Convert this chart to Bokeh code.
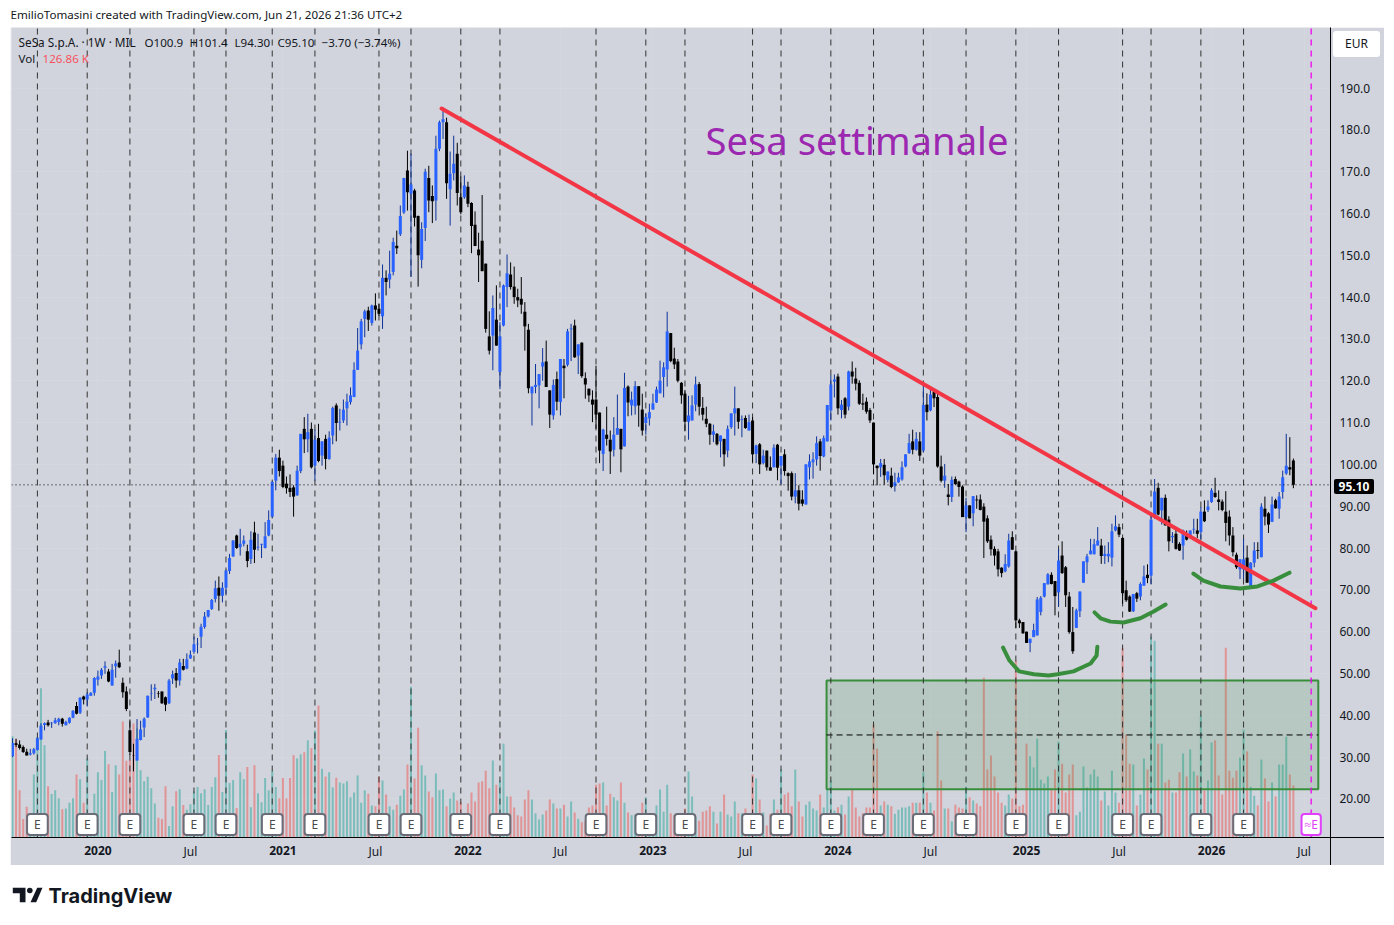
from bokeh.plotting import figure
from bokeh.embed import file_html
from bokeh.resources import INLINE
from bokeh.layouts import column
from bokeh.models import (ColumnDataSource, Range1d, Label, Div, FixedTicker, Span)
from bokeh.core.properties import value

opens = [
30.2,33.3,33.0,32.4,31.3,30.6,30.9,31.7,34.2,37.7,
38.3,38.1,38.1,38.4,39.2,37.6,38.2,39.4,42.2,40.6,
44.5,43.8,44.7,45.4,48.5,49.5,51.4,50.5,47.1,51.7,
52.6,47.8,45.7,36.4,30.4,29.2,34.1,37.1,39.5,45.1,
46.2,45.2,45.7,44.3,42.9,48.8,50.1,48.3,51.8,51.2,
53.6,55.2,57,58.8,61.1,63.6,65.4,67.8,70.5,68.6,
70.5,74.5,78,83,80.2,81,79.2,77.4,83.7,80.1,
80.8,80,83,87.5,96.1,101.6,99.7,95.4,94.4,94.5,
92.6,98.4,108.5,106,108.5,99.7,106.3,102.1,106.1,101.3,
106.9,114.1,110,110.5,113.4,114.9,116.1,122.6,128.7,134.8,
136.8,133.8,138,137.2,135.4,144.6,144.2,146,152.3,155,
160.2,170.3,164.7,165.5,159.4,148.9,156.5,168.5,164.2,163.1,
175.5,181.8,181.8,165.8,169.6,174.3,163.9,163.9,166.4,162.5,
157.3,151.4,153.5,148,130.6,130.8,134.6,122.1,133.2,142.4,
145.4,142.5,140,139.6,136.5,132.2,117.0,118.5,118.9,123.4,
124.6,117.7,111.7,120.4,114.9,123.6,123.8,132.3,133.2,126,
129.1,120.6,118.1,115.5,115.5,112.4,102.5,107.1,105.9,103.5,
107.1,108.5,104.3,118.6,114.1,113.9,118.7,113.1,109.9,111.0,
113.1,114.8,117,120.9,122.7,131.4,125.3,124.6,119.5,116.9,
110.2,110.5,114.3,119.2,113.5,110.9,109.7,107.1,107.3,105.5,
106.1,103.3,108.9,112.2,113.4,110.6,111.1,108.1,110.5,102.5,
104.8,100.3,103.3,99.3,99.3,104.7,99.7,102.4,97.9,97.9,
92.3,93.8,91.6,90.4,99.3,100.5,101.2,105.5,101.9,105.5,
112.9,119.8,121,113,115.8,113.8,122.2,120.5,119.5,114.6,
115,113,110,99.7,99.3,99.9,96.3,97.3,94.8,95.7,
96.4,99.5,102.7,105.5,103.5,105.5,103.3,114.3,112.9,117.4,
116.1,99.5,96.1,92.8,92.2,96.5,95.9,94.7,87.4,90.2,
88.3,91.6,91.6,89.9,87.1,82,79.8,79.2,75.3,74.4,
75.6,82.6,79.2,62.7,62.3,60,57.3,58.7,59.1,64.7,
68.4,71.3,73.6,72.1,69.4,78.2,75.4,68.4,59.9,60.9,
64.9,71.7,76.6,78.5,78.5,80.6,80.6,78.1,78.0,77.7,
84.2,85,82.4,69.9,68.4,64.9,69.2,68.4,71.0,73.6,
73.4,87.4,94.4,89,92,86.8,82.6,83.4,81,80.6,
83.4,82.6,84.4,84.2,83.8,88.7,89.1,91,93.2,91.6,
91.1,88.7,87.5,83,78.4,74.9,74.9,77.7,70.9,76.5,
79.5,77.8,89.4,88.3,86.3,91.4,89.4,93.4,97.8,99.3,100.9]

closes = [
33.4,32.9,32.2,31.2,30.4,30.9,31.9,34.5,37.5,38.1,
37.6,38.2,38.8,39.2,38.0,38.4,39.4,41.1,40.4,44.2,
43.8,45,45.4,48.9,49.3,50.9,51.7,48.1,50.9,52.4,
51.5,45.5,41.5,31.2,30.3,34.4,36.6,39.2,44.7,45.2,
46.6,45.1,42.9,42.5,48.3,49.8,48.3,52.6,50.9,53.4,
54.5,57,57.1,61.2,63.6,65.2,67.6,70.4,68.6,70.5,
74.6,77.6,81.8,80,81,81.8,76.9,82,79.6,80.3,
81,82.8,86.7,95.8,101.6,98.4,94.6,94.3,93.4,92.3,
98.5,107.3,106,107.7,99.3,105.9,100.8,105.5,101.3,106.4,
113.5,109.9,110.2,113.1,115,116.5,122.6,127.2,134.2,136.6,
134.6,138,137,136,144.6,143.6,145.6,153.2,151.7,159.4,
168.5,165.1,166.9,159,150,156.3,170,163.1,162.9,175.5,
181.8,182.5,167.2,169.5,171.9,164.9,160.3,166.7,162.3,157,
152.2,150,146.2,132.4,127.2,137.4,128.4,130.6,142.8,145.7,
142.4,140,139.2,138.2,133,118.2,118.6,119,121.6,124.4,
118.5,111.9,119,115,125.2,123,131.8,132.5,125.6,128.7,
121.1,119.1,116.5,114.3,111.9,103.3,108.3,106.1,103.1,107.1,
108.7,103.6,118.3,114.8,115.5,118.7,114.1,108.1,111.3,112.5,
114.6,117.9,120,123.2,131.8,124.7,123.9,120,116.5,110.2,
111.7,114.1,119.1,113.8,111.9,109.7,107.1,107.9,104.8,106.9,
102.4,108.5,112.2,113.4,110.2,110.8,108.7,110.1,102.4,104.5,
100,102.1,99.3,98.5,104,99.2,102,98.4,97.2,92.3,
93.8,90.6,90.6,100,100.7,101.2,105.1,102,106.3,114.2,
119.1,120.3,113.4,114.3,111.9,122.2,121,119.3,114.5,114.3,
112.6,110.5,100,99.1,100.3,97.4,98.3,94.6,95.7,96.9,
99.3,102.4,105.1,103.5,106.1,102.1,114.2,112.5,116.7,115.8,
99.5,96.1,97.3,92.2,96.3,95.3,94.6,87.4,90.2,87.1,
92.4,91.4,89.1,86.3,81.6,79.7,78.2,74.9,74,76.2,
81.8,79.6,62.7,62.0,59.6,57.3,58.3,60.4,67.7,68.1,
71.6,73.7,71.4,68.5,77,74,68.7,59.9,55.3,65.1,
69.6,76.8,78,79.4,80.9,81.8,78.1,78.6,78.6,84,
85.2,83.2,69.2,67.5,64.8,69,67.9,71.4,73.2,72.8,
86.8,93.5,88,92,85.4,81.6,82.9,79.8,79.4,84.2,
82,84.2,84.6,83.4,88.7,86.4,89.9,93.8,92.2,91,
89.1,86,83,79,75.4,77.3,77.3,71.7,76.5,79.4,
79.3,89.9,87.5,85.6,90.4,89.5,92.3,96.9,99.7,98.8,95.1]

highs = [
34.5,34.4,34,32.8,32,32,32.2,34.8,38.1,38.3,
38.9,38.4,39.4,39.4,39.4,38.7,39.5,41.2,43.2,44.3,
44.7,45.5,45.5,49.1,50.7,51.3,52.9,51.1,52.3,53.1,
55.7,49,46.9,39,33.2,39.1,38.7,39.5,44.7,47.4,
47.5,45.8,45.7,44.5,48.7,50.7,51.3,53.5,53.5,54.8,
55.5,58.8,58.5,61.9,64.7,65.2,67.8,72.2,73.2,71.8,
74.8,78.6,81.9,83.2,84.6,83,80.8,84,86.3,83.4,
81,86.2,89,96,102.5,103.5,100.9,97.1,97.6,95,
99.7,107.3,111.3,112.1,110,108.3,109.7,105.5,107.1,107.9,
113.8,114.6,113.3,115.5,116.9,118.4,124.4,132.6,134.8,137,
137.7,138.2,140.9,138.4,147.8,146.4,151.1,154.2,155.9,161.9,
168.5,175,174.3,165.9,159.5,157.9,170.7,171.4,166.7,178.6,
182.2,185.3,182.9,174.8,178.6,176.9,168.8,169.1,167.6,162.7,
160.5,155.4,164.4,148,136.6,140.4,142.8,134,143,150.2,
148.3,147.3,142,144.8,138.8,133.6,118.6,124,121.6,127.8,
129.6,117.7,120.3,122.2,125.2,125.2,132.4,133.6,134.6,128.7,
129.2,122,118.1,117.7,123.6,112.4,108.5,113.8,108.1,111.3,
116.7,108.5,121.9,118.9,117.4,119.9,118.7,116.9,112.2,114.5,
116.9,118.6,124.8,124.4,136.5,131.4,127.9,125.2,119.7,117.8,
116.4,116.5,121,119.7,116.1,113.8,109.9,109.5,107.5,106.9,
106.1,109.3,112.2,118.6,113.4,111.7,111.7,111.9,111.3,104.7,
105.1,103.5,103.3,101.9,104.8,104.9,102,103.6,98.1,98.3,
97.9,95,93.8,100,102.4,102.9,106.7,106.1,106.9,114.2,
121.3,121.5,121.7,115.4,116.1,122.4,124.6,123.1,120.1,116.9,
116,113.5,110,99.7,101.3,101.3,98.3,99.2,98,98,
100.7,102.4,107.3,108.3,107.7,107.7,118.9,117,118,118,
117.8,102.1,100.1,95.3,97.1,97.1,96.1,95,92,90.2,
92.4,92.6,92.8,90.7,87.8,83,80.4,79.8,75.4,78.5,
83.4,84,79.4,63.1,62.3,60,58.3,61.9,68.3,68.5,
71.6,74,74.2,72.1,79.8,81.6,75.7,69.5,65.9,65.5,
69.6,76.8,78.6,82.2,82.2,85,82.2,80.6,81.4,85.8,
87.8,85.8,82.6,72.2,68.7,69,69.5,71.8,75.8,76.1,
88.2,96.5,95.6,92,92.8,87.6,83.8,84.6,81.4,84.4,
84.2,84.2,87,87,89.8,91.4,91.4,94.3,96.8,93.8,
91.6,93.6,89,85,78.9,77.3,82.2,80.6,76.6,81.4,
81.4,90.7,92.3,88.6,92.3,91.8,93.4,98.5,107.3,106.5,101.4]

lows = [
30,32.4,31.8,31,30.4,30.4,30.6,31.6,34.2,36.4,
37.3,37,38,37.6,37.3,37.6,38,39.3,40.2,40.3,
42.6,42.1,44.6,44.7,47.1,48.7,49.9,47.9,47.1,49,
51.3,44.2,41,30.5,26.6,29.2,34,34.8,39.4,43.5,
43.9,44.2,42.7,41,42.7,47.5,46.6,47.1,50.7,51,
53.5,54.7,54.8,56.1,60.7,63.4,65.2,67,65,67,
69,73.8,77.9,79.8,78.2,80.4,75.4,76.2,76.4,79.4,
77.6,79.9,82.8,87.3,93.8,97.1,94.3,93,92.2,87.5,
92.5,97.9,102.7,102.9,99,96.1,100.5,99.7,98.8,101.1,
104.8,105.5,108.1,109.9,109.3,114.3,116.1,122.6,127.5,130.4,
131.9,133.2,134.4,135.5,132.4,140.4,142.1,145.2,150.3,154.6,
159.9,160.7,144.8,156.9,142.5,146.9,153.4,160.3,157.7,158.3,
174.9,177.8,163.5,157.1,167.9,161.9,159.8,163.5,161.5,150.5,
152.2,143.6,146.2,131.5,126.3,122.5,128.4,118,133,137.6,
141.8,138.4,137.6,136,127.2,117,109.3,117,113.4,120,
118.5,108.7,110.7,112.9,111.7,115.8,123.4,124.7,125.5,121.6,
120.7,115.7,114.9,110.1,108.5,100.3,98.4,104.5,97.7,101.9,
107.1,98.1,104.3,111.5,111.7,111.9,109,106.9,107.1,109.3,
113.1,114.7,117,116,118.6,124.4,122.8,119.6,114.5,107.9,
105.9,110.5,112.7,111.7,110.5,108.9,104.7,105.3,104.5,101.7,
99.5,101.7,108.5,106.9,108.5,106.5,108.5,108.1,100.5,100.3,
97.7,100,98.5,98.5,99.3,96.2,95.3,97.3,93.7,91.4,
90.7,89,90,90.4,96.4,96.6,99.7,98.5,101.7,105.5,
110.5,116,111.9,111,111,112.9,119.3,117.7,114.2,113,
112.1,109.9,97.7,95,97,95.1,95.7,94.3,93.5,95.6,
96.1,99.3,102.5,102.4,103.3,100.8,102.9,110.5,112.7,113.7,
99.2,95.7,94.4,90.2,91,95.1,92.3,87.4,83.8,87.1,
85.2,89.4,89,77.6,81.2,78.2,75.8,73.2,73,74.2,
75.3,79.6,60.9,60.9,59.5,57.3,55.1,58.7,59.1,63.9,
68.2,71.3,71.3,63.9,65.9,73.8,65.9,59.5,54.7,60.9,
63.5,71.7,73.8,78.5,78.5,80.6,76.2,76.2,76.6,75.6,
84,82.6,66.7,67.1,64.7,64.7,67.1,67.5,71,71.6,
71.4,87,87.8,85.6,85.4,79.2,81.2,79.6,79.3,77.2,
81.8,82.4,83.4,82.4,82.2,86.2,88.6,90.8,92,89,
88.8,81.6,80.6,78,75,72.6,72.6,71.7,70.2,75.4,
77.4,77.8,85.4,83.6,86.2,89.4,87,91.8,97.5,97.4,94.3]

volumes_k = [
247,240,115,45,75,34,154,245,364,225,
125,106,115,96,69,71,85,96,154,142,
85,193,50,107,159,140,211,179,111,176,
154,283,187,189,278,266,164,137,148,120,
83,48,45,125,28,76,113,118,79,68,
81,113,123,108,118,79,123,147,201,111,
262,133,140,72,159,142,172,74,176,108,
86,145,115,162,123,96,145,96,145,201,
193,203,208,237,218,261,322,168,149,159,
122,146,134,132,137,98,110,151,85,115,
107,78,76,149,139,105,76,68,80,102,
117,178,368,144,268,176,151,112,98,156,
115,117,76,95,110,90,86,58,83,110,
88,134,137,163,120,188,129,139,229,100,
100,73,54,51,93,115,93,59,44,56,
66,93,83,71,71,80,51,88,61,46,
37,41,73,78,129,132,134,78,107,98,
90,134,85,61,54,56,50,85,98,58,
50,78,117,63,129,59,54,41,41,71,
161,100,51,41,63,66,76,63,34,63,
105,56,51,88,59,59,71,50,154,144,
93,61,29,58,93,68,166,105,110,76,
166,88,51,80,88,71,66,105,73,117,
139,66,74,80,56,100,116,73,51,59,
73,73,276,217,78,88,80,76,58,68,
73,73,76,85,85,85,159,110,85,66,
259,139,71,71,39,80,73,71,124,98,
90,83,76,390,166,200,149,110,85,78,
105,95,432,76,80,229,198,171,241,141,
132,149,117,166,234,180,110,154,178,54,
63,173,122,154,166,149,90,112,78,163,
110,85,463,251,180,178,78,105,193,166,
490,480,229,229,134,141,110,110,159,205,
149,215,161,151,298,115,139,232,237,151,
105,463,163,146,163,195,263,210,124,102,
78,190,144,88,134,100,178,178,246,154,126.86]

assert len(opens) == len(closes) == len(highs) == len(lows) == len(volumes_k) == 361

earnings_weeks = [7,21,33,51,60,73,85,103,112,126,137,164,178,189,208,216,230,242,256,268,282,294,312,320,334,346]
next_earnings_week = [365]
year_ticks = [24,76,128,180,232,285,337]
year_labels = ["2020","2021","2022","2023","2024","2025","2026"]
jul_ticks = [50,102,154,206,258,311,363]
price_ticks = [20,30,40,50,60,70,80,90,100,110,120,130,140,150,160,170,180,190]
price_labels = ["20.00","30.00","40.00","50.00","60.00","70.00","80.00","90.00","100.00",
                "110.0","120.0","130.0","140.0","150.0","160.0","170.0","180.0","190.0"]
last_close = 95.10

trend_x = [120.6, 366.2]
trend_y = [185.1, 65.6]
box_x = [228.8, 367.0]
box_y = [22.3, 48.3]
arc1_x = [278.4,280.2,282.9,287.1,291.2,293.7,298.2,303.0,304.7,304.9]
arc1_y = [56.2,53.1,50.5,49.8,49.5,49.8,50.5,52.4,54.3,56.4]
arc2_x = [304.1,305.8,308.6,312.3,317.0,320.7,324.1]
arc2_y = [64.6,63.2,62.4,62.2,63.2,64.8,66.5]
arc3_x = [331.9,334.7,339.5,345.1,349.9,354.4,358.9]
arc3_y = [73.9,72.2,70.8,70.3,70.8,72.2,74.1]

PX_WEEK = 3.558
PX_PRICE = 4.182
x_lo = (11 - 12) / PX_WEEK
x_hi = (1330 - 12) / PX_WEEK
y_hi = 190 + (87.5 - 27) / PX_PRICE
y_lo = 190 - (837 - 87.5) / PX_PRICE
PX_VOL = 2.44
flag_y = 190 - (824 - 87.5) / PX_PRICE

BG = "#d1d4dc"
UI_FONT = "Noto Sans"

p = figure(width=1374, height=838, output_backend="svg", toolbar_location=None,
           x_range=Range1d(x_lo, x_hi), y_range=Range1d(y_lo, y_hi),
           y_axis_location="right", min_border_left=1, min_border_right=54,
           min_border_top=0, min_border_bottom=28,
           background_fill_color=BG, border_fill_color=BG, outline_line_color=None,
           margin=(0, 0, 0, 10))
p.extra_y_ranges["vol"] = Range1d(0, 810 * PX_VOL)

p.xgrid.ticker = FixedTicker(ticks=year_ticks + jul_ticks)
p.ygrid.ticker = FixedTicker(ticks=price_ticks)
p.xgrid.grid_line_color = "#ffffff"; p.xgrid.grid_line_alpha = 0.07
p.ygrid.grid_line_color = "#ffffff"; p.ygrid.grid_line_alpha = 0.07

idx = list(range(len(opens)))
up = [c >= o for o, c in zip(opens, closes)]
src = ColumnDataSource(dict(
    x=idx, o=opens, c=closes, h=highs, l=lows, v=volumes_k,
    body=["#2962ff" if u else "#000000" for u in up],
    wick=["#0c3299" if u else "#000000" for u in up],
    volc=["#26a69a" if u else "#ef5350" for u in up],
))

p.vbar(x="x", top="v", bottom=0, width=0.56, source=src, y_range_name="vol",
       fill_color="volc", fill_alpha=0.5, line_color=None)

p.quad(left=[box_x[0]], right=[box_x[1]], bottom=[box_y[0]], top=[box_y[1]],
       fill_color="#388e3c", fill_alpha=0.17, line_color="#388e3c", line_width=2)
p.line(box_x, [sum(box_y) / 2] * 2, line_color="#000000", line_width=1, line_dash="6 4")

flags_x = earnings_weeks
p.segment(x0=flags_x, x1=flags_x, y0=[y_lo] * len(flags_x), y1=[y_hi] * len(flags_x),
          line_color="#333333", line_width=1, line_dash="6 5")
p.segment(x0=next_earnings_week, x1=next_earnings_week, y0=[y_lo], y1=[y_hi],
          line_color="#f000f0", line_width=1.3, line_dash="6 5")

p.segment(x0="x", x1="x", y0="l", y1="h", source=src, line_color="wick", line_width=1)
p.vbar(x="x", top="o", bottom="c", width=0.85, source=src, fill_color="body", line_color=None)

p.add_layout(Span(location=last_close, dimension="width", line_color="#000000",
                  line_width=1, line_dash="1 3"))

p.line(trend_x, trend_y, line_color="#f23645", line_width=4, line_cap="round")
for ax, ay in ((arc1_x, arc1_y), (arc2_x, arc2_y), (arc3_x, arc3_y)):
    p.line(ax, ay, line_color="#388e3c", line_width=4, line_cap="round", line_join="round")

p.text(flags_x, [flag_y] * len(flags_x), text=["E"] * len(flags_x),
       text_align="center", text_baseline="middle", text_font=value(UI_FONT),
       text_font_size="12px", text_color="#4a4a4a", background_fill_color="white",
       border_line_color="#6a6d78", border_line_width=2, border_radius=3, padding=(7, 2))
p.text(next_earnings_week, [flag_y], text=["\u2248E"], text_align="center", text_baseline="middle",
       text_font=value(UI_FONT), text_font_size="12px", text_color="#e040fb",
       background_fill_color="white", border_line_color="#e040fb", border_line_width=2,
       border_radius=3, padding=(3, 2))

# axes
ya = p.yaxis[0]
ya.ticker = FixedTicker(ticks=price_ticks)
ya.major_label_overrides = {t: s for t, s in zip(price_ticks, price_labels)}
ya.major_tick_line_color = None
ya.major_tick_out = 0
ya.minor_tick_line_color = None
ya.minor_tick_out = 0
ya.axis_line_color = "#000000"
ya.major_label_text_font = UI_FONT
ya.major_label_text_font_size = "12px"
ya.major_label_text_color = "#131722"
ya.major_label_standoff = 9

xa = p.xaxis[0]
xa.ticker = FixedTicker(ticks=year_ticks)
xa.major_label_overrides = {t: s for t, s in zip(year_ticks, year_labels)}
xa.major_tick_line_color = None
xa.major_tick_out = 0
xa.minor_tick_line_color = None
xa.minor_tick_out = 0
xa.axis_line_color = "#000000"
xa.major_label_text_font = UI_FONT
xa.major_label_text_font_style = "bold"
xa.major_label_text_font_size = "12px"
xa.major_label_text_color = "#131722"
xa.major_label_standoff = 8

FRAME_L, FRAME_B = 11, 837
def lab(px, py, text, size="12px", color="#131722", align="left", style="normal", font=UI_FONT, **kw):
    p.add_layout(Label(x=px - FRAME_L, y=FRAME_B - py, x_units="screen", y_units="screen", text=text,
                       text_font=font, text_font_size=size, text_color=color,
                       text_align=align, text_baseline="middle", text_font_style=style, **kw))

lab(18, 41.5, "SeSa S.p.A. \u00b7 1W \u00b7 MIL", size="11.8px")
lab(144, 41.5, "O100.9", size="11.6px")
lab(189, 41.5, "H101.4", size="11.6px")
lab(234, 41.5, "L94.30", size="11.6px")
lab(277, 41.5, "C95.10", size="11.6px")
lab(321, 41.5, "\u22123.70 (\u22123.74%)", size="11.6px")
lab(18, 58, "Vol", size="11.6px")
lab(42, 58, "126.86 K", size="11.6px", color="#f7525f")
lab(705, 139, "Sesa settimanale", size="38.2px", color="#9c27b0")

def at(left, top):
    return {"position": "absolute", "left": f"{left}px", "top": f"{top}px"}

# The column shares the main figure's side borders with its other figures (1 px left, 54 px right),
# so the bands' x ranges run over the frame that leaves.
def band(h, y0, y1):
    f = figure(width=1390, height=h, output_backend="svg", toolbar_location=None,
               x_range=Range1d(1, 1336), y_range=Range1d(y0, y1),
               x_axis_type=None, y_axis_type=None, min_border=0, outline_line_color=None,
               background_fill_color="white", border_fill_color="white")
    f.xgrid.visible = False
    f.ygrid.visible = False
    return f

head = band(27, 0, 27)
head.text([10], [13], text=["EmilioTomasini created with TradingView.com, Jun 21, 2026 21:36 UTC+2"],
          text_font=value(UI_FONT), text_font_size="11.6px", text_color="#131722",
          text_align="left", text_baseline="middle")

foot = band(55, 920, 865)
foot.patch([12.3,25,25,19.3,19.3,12.3], [887.3,887.3,901.7,901.7,892.7,892.7], fill_color="#131722", line_color=None)
foot.patch([36.7,42,35.7,30], [887.3,887.3,901.7,901.7], fill_color="#131722", line_color=None)
foot.scatter([29.3], [890], size=5.6, fill_color="#131722", line_color=None)
foot.text([48], [895], text=["TradingView"], text_font=value("Inter"), text_font_size="20px",
          text_font_style="bold", text_color="#131722", text_align="left", text_baseline="middle")

# Jul labels: a transparent strip with the main figure's geometry and x range
jul_strip = figure(width=1374, height=16, output_backend="svg", toolbar_location=None,
                   x_range=p.x_range, y_range=Range1d(0, 1), x_axis_type=None, y_axis_type=None,
                   min_border=0, outline_line_color=None, background_fill_color=None,
                   border_fill_color=None, styles=at(10, 843))
jul_strip.xgrid.visible = False
jul_strip.ygrid.visible = False
jul_strip.text(jul_ticks, [0.5] * len(jul_ticks), text=["Jul"] * len(jul_ticks),
               text_font=value(UI_FONT), text_font_size="12px", text_color="#131722",
               text_align="center", text_baseline="middle")

tag_font = {"font-family": UI_FONT, "font-size": "12px", "text-align": "center"}
eur_tag = Div(text="EUR", width=47, height=26, margin=0,
              styles=dict(at(1333, 31), background="white", color="#131722",
                          **{"border-radius": "3px", "line-height": "26px"}, **tag_font))
price_tag = Div(text=f"{last_close:.2f}", width=40, height=15, margin=0,
                styles=dict(at(1334, 479), background="#000000", color="#ffffff",
                            **{"border-radius": "2px", "line-height": "15px", "font-weight": "bold"}, **tag_font))
rule_h = Div(text="", width=54, height=1, margin=0, styles=dict(at(1330, 837), background="#000000"))
rule_v = Div(text="", width=1, height=28, margin=0, styles=dict(at(1330, 837), background="#000000"))

page = column(head, p, foot, jul_strip, eur_tag, price_tag, rule_h, rule_v, spacing=0)
open("out.html", "w").write(file_html(page, INLINE))
